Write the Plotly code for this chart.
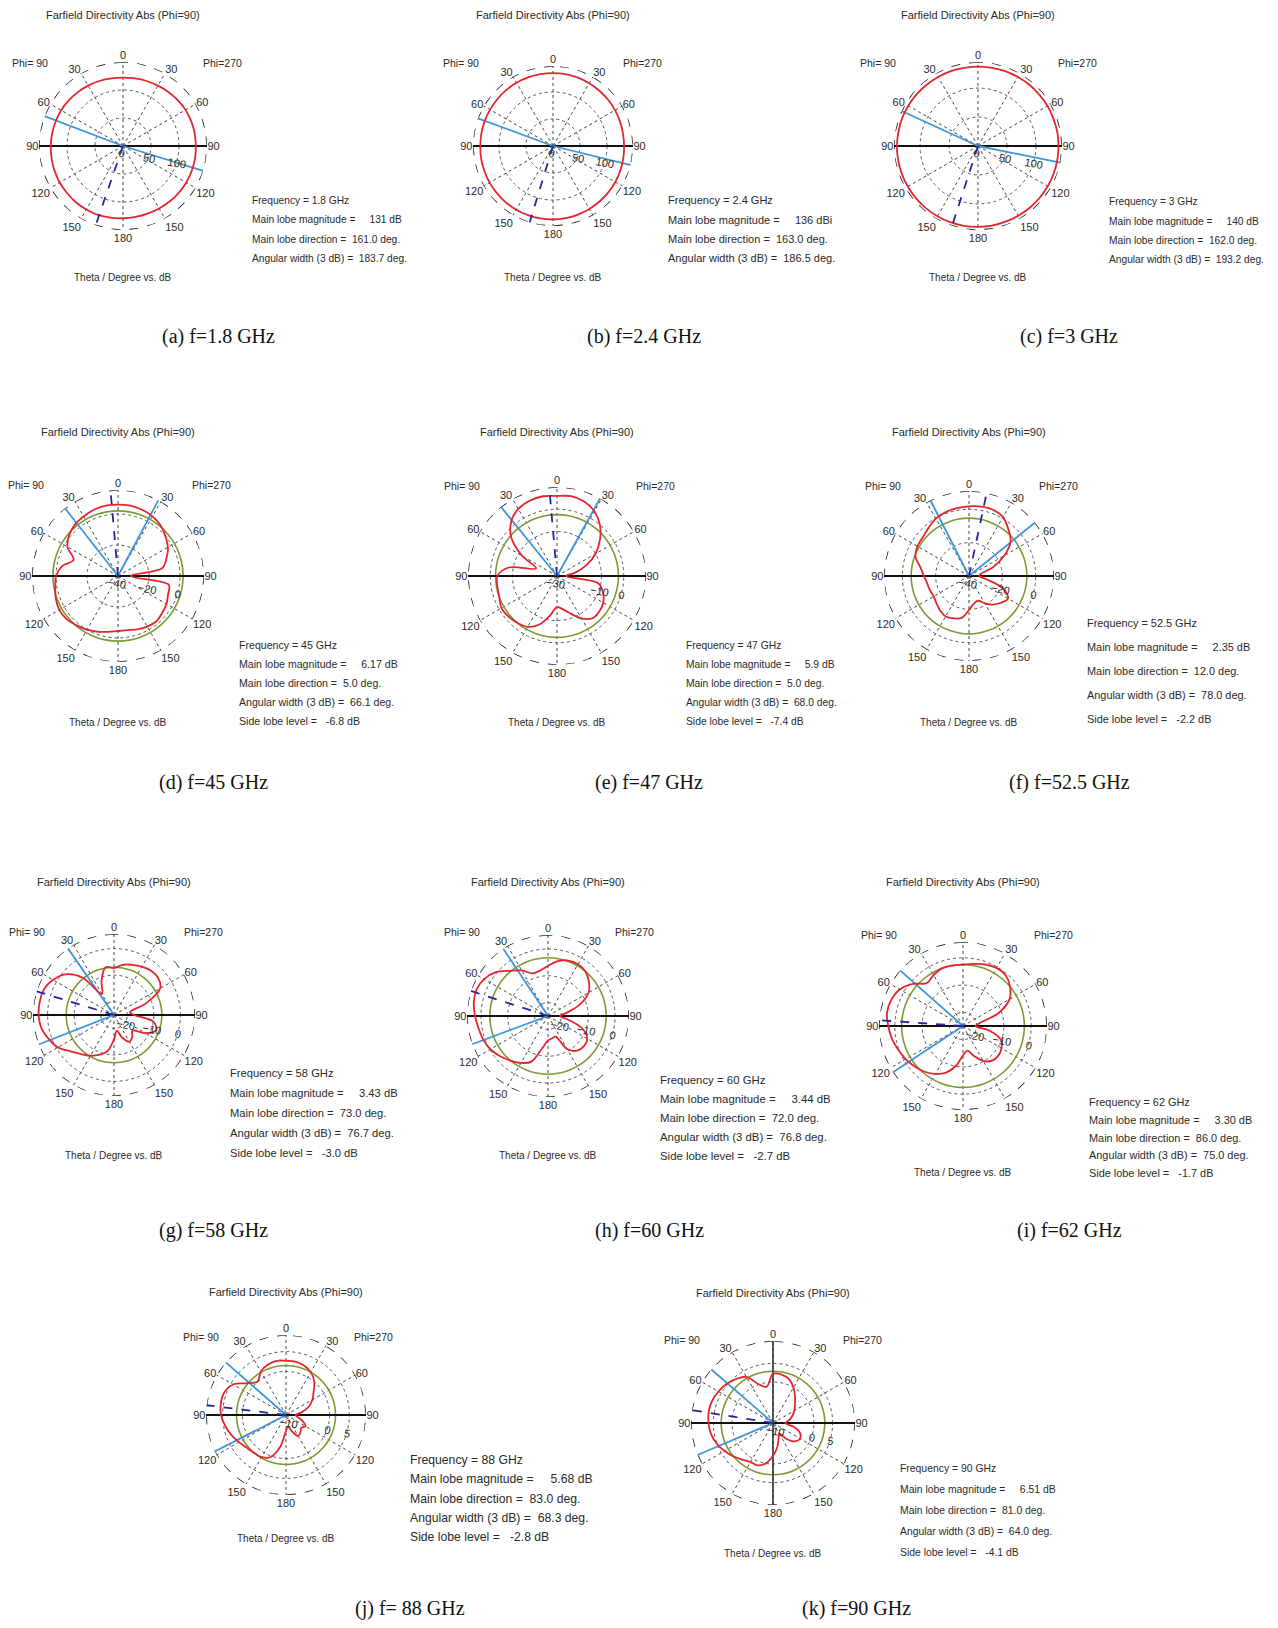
import plotly.graph_objects as go

W, H = 1278, 1628
OFF = 8                      # default page margin of the html body
FW, FH = W - 2 * OFF, H - 2 * OFF

# ---------------- data ----------------
# plot angle: 0 = top, increasing to the left (Phi=90 side); 180..360 = Phi=270 side
THETA_10 = [0, 10, 20, 30, 40, 50, 60, 70, 80, 90, 100, 110, 120, 130, 140, 150, 160, 170, 180,
            190, 200, 210, 220, 230, 240, 250, 260, 270, 280, 290, 300, 310, 320, 330, 340, 350, 360]

R_18 = [122, 122.5, 123.5, 124.5, 125.5, 126.5, 127.5, 128, 128.5, 129, 129.5, 130, 130.5, 130.5, 131, 131, 131, 130, 129,
        128.5, 128.5, 129, 129.5, 130, 130.5, 130.5, 130.5, 130, 130, 129.5, 129, 127.5, 126, 124.5, 123.5, 122.5, 122]
R_24 = [135, 135, 135, 135, 135, 134.5, 134.5, 134.5, 134.5, 134.5, 135, 135, 135.5, 135.5, 136, 136, 136, 136, 136,
        135.5, 135, 134.5, 134, 133.5, 133, 132.5, 132, 131.5, 131.5, 132, 132.5, 133, 133.5, 134, 134.5, 135, 135]
R_30 = [137, 137, 137.5, 137.5, 138, 138.5, 139, 139.5, 139.5, 140, 140, 140, 140, 140, 140, 140, 140, 140, 139.5,
        139.5, 139, 139, 139, 139, 139, 139, 139, 139, 139, 138.5, 138.5, 138, 138, 137.5, 137.5, 137, 137]
R_45 = [6.1, 6.1, 5.5, 4.4, 3.3, 1.1, -2.3, -9.5, -3.4, 0.0, 1.1, 2.7, 3.8, 3.3, 1.6, 0.0, -1.7, -3.4, -4.5,
        -4.5, -3.4, -2.3, -1.7, -2.8, -3.9, -5.6, -6.7, -31.7, -11.1, -6.7, -2.8, 0.0, 2.7, 4.4, 5.5, 6.1, 6.1]
R_47 = [6.0, 6.4, 6.0, 4.8, 2.0, -3.2, -12.0, -20.0, -8.0, -3.2, -2.8, -2.4, -1.2, -1.6, -2.4, -3.6, -6.8, -12.0, -16.0,
        -14.8, -12.0, -8.0, -5.2, -5.2, -6.0, -8.0, -11.2, -26.0, -22.0, -16.0, -10.0, -4.8, 0.0, 3.6, 5.6, 6.4, 6.0]
R_525 = [1.8, 1.3, 0.8, -0.2, -2.3, -3.8, -4.3, -5.8, -10.4, -13.0, -14.5, -15.0, -15.5, -14.5, -13.0, -12.0, -13.0, -14.5, -19.6,
         -23.2, -24.2, -21.1, -17.6, -15.0, -13.0, -18.6, -29.8, -33.9, -32.9, -24.7, -15.5, -7.4, -3.3, 0.8, 2.3, 2.3, 1.8]
R_58 = [-7.3, -6.7, -11.3, -15.9, -6.7, -1.2, 1.5, 3.1, 3.4, 3.4, 2.8, 1.2, -0.6, -3.7, -5.8, -7.3, -9.1, -11.3, -15.9,
        -18.9, -15.9, -13.4, -14.3, -15.9, -11.3, -8.2, -9.8, -17.4, -18.9, -12.2, -4.9, -3.3, -3.3, -4.0, -4.9, -5.8, -7.3]
R_60 = [-6.3, -7.8, -8.1, -5.4, -3.0, 0.4, 2.5, 3.4, 3.1, 2.2, 1.3, 0.7, -0.2, -1.7, -3.3, -4.8, -6.9, -12.9, -15.9,
        -16.5, -16.8, -10.8, -8.1, -7.5, -8.1, -11.4, -17.5, -20.5, -17.8, -12.3, -7.5, -5.1, -3.3, -2.7, -3.0, -4.2, -6.3]
R_62 = [-2.5, -2.5, -2.5, -3.4, -4.4, -1.0, 1.8, 3.0, 3.3, 2.4, 1.5, 0.3, -0.7, -1.9, -3.1, -4.7, -6.8, -10.2, -14.2,
        -15.8, -13.3, -10.2, -8.4, -8.1, -8.7, -10.2, -15.1, -20.4, -18.8, -11.1, -5.3, -2.5, -0.7, -0.4, -1.0, -1.9, -2.5]
R_88 = [2.7, 2.9, 2.5, 1.7, 0.1, 1.5, 4.4, 5.6, 5.7, 5.4, 4.6, 3.7, 2.7, 1.9, 1.5, 1.3, 0.3, -2.9, -7.0,
        -8.0, -6.6, -4.9, -5.3, -6.0, -5.3, -6.6, -8.0, -8.6, -7.0, -4.9, -3.3, -1.9, 0.1, 1.5, 2.3, 2.7, 2.7]
R_90 = [2.2, -1.1, 0.0, 3.3, 4.4, 5.3, 5.9, 6.4, 6.5, 6.3, 5.9, 5.1, 4.0, 2.9, 1.8, 1.1, 1.1, 0.0, -2.2,
        -4.4, -6.6, -7.7, -5.5, -3.3, -2.6, -3.3, -5.5, -7.7, -6.6, -5.5, -4.4, -3.3, -1.8, 0.0, 1.5, 2.2, 2.2]

FREQ_LABELS = ["1.8 GHz", "2.4 GHz", "3 GHz", "45 GHz", "47 GHz", "52.5 GHz",
               "58 GHz", "60 GHz", "62 GHz", "88 GHz", "90 GHz"]
CAPTIONS = ["(a) f=1.8 GHz", "(b) f=2.4 GHz", "(c) f=3 GHz", "(d) f=45 GHz", "(e) f=47 GHz",
            "(f) f=52.5 GHz", "(g) f=58 GHz", "(h) f=60 GHz", "(i) f=62 GHz", "(j) f= 88 GHz", "(k) f=90 GHz"]
MAIN_MAG = ["131 dB", "136 dBi", "140 dB", "6.17 dB", "5.9 dB", "2.35 dB",
            "3.43 dB", "3.44 dB", "3.30 dB", "5.68 dB", "6.51 dB"]
MAIN_DIR = [161.0, 163.0, 162.0, 5.0, 5.0, 12.0, 73.0, 72.0, 86.0, 83.0, 81.0]
MAIN_SIDE = ["L", "L", "L", "L", "L", "R", "L", "L", "L", "L", "L"]   # L: Phi=90 side, R: Phi=270 side
ANG_WIDTH = [183.7, 186.5, 193.2, 66.1, 68.0, 78.0, 76.7, 76.8, 75.0, 68.3, 64.0]
SIDE_LOBE = [None, None, None, -6.8, -7.4, -2.2, -3.0, -2.7, -1.7, -2.8, -4.1]
REF_CIRCLE = [None, None, None, 2.0, -2.4, -5.3, -7.0, -3.3, -2.5, 1.5, 2.9]
R_MIN = [0, 0, 0, -40, -30, -40, -25, -25, -25, -11, -11]
R_MAX = [150, 148, 145, 15.5, 10, 11, 5.5, 5.2, 5.8, 9.2, 11]
R_TICKS = [[0, 50, 100], [0, 50, 100], [0, 50, 100], [-40, -20, 0], [-30, -10, 0], [-40, -20, 0],
           [-20, -10, 0], [-20, -10, 0], [-20, -10, 0], [-10, 0, 5], [-10, 0, 5]]

PATTERNS = [R_18, R_24, R_30, R_45, R_47, R_525, R_58, R_60, R_62, R_88, R_90]

ANG_TICKVALS = [0, 30, 60, 90, 120, 150, 180, 210, 240, 270, 300, 330]
ANG_TICKTEXT = ["0", "30", "60", "90", "120", "150", "180", "150", "120", "90", "60", "30"]

# ---------------- layout (page-pixel geometry) ----------------
GEOM = [
    dict(cx=123, cy=146, r=84, ty=15, py=63, thy=278, ix=250, iy=200, idy=19.5, fs=10.2, capx=218, capy=337, pl=30, pr=222),
    dict(cx=553, cy=146, r=80, ty=15, py=63, thy=278, ix=666, iy=200, idy=19.5, fs=11, capx=644, capy=337, pl=461, pr=642),
    dict(cx=978, cy=146, r=84, ty=15, py=63, thy=278, ix=1107, iy=202, idy=19, fs=10.2, capx=1069, capy=337, pl=878, pr=1077),
    dict(cx=118, cy=576, r=86, ty=432, py=485, thy=722, ix=237, iy=645, idy=19, fs=10.6, capx=213, capy=782, pl=26, pr=211),
    dict(cx=557, cy=576, r=89, ty=432, py=486, thy=722, ix=684, iy=645, idy=19, fs=10.3, capx=649, capy=782, pl=462, pr=656),
    dict(cx=969, cy=576, r=85, ty=432, py=486, thy=722, ix=1085, iy=623, idy=24, fs=10.9, capx=1069, capy=782, pl=883, pr=1058),
    dict(cx=114, cy=1015, r=81, ty=882, py=932, thy=1155, ix=228, iy=1073, idy=20, fs=11.2, capx=213, capy=1230, pl=27, pr=203),
    dict(cx=548, cy=1016, r=81, ty=882, py=932, thy=1155, ix=658, iy=1080, idy=19, fs=11.4, capx=649, capy=1230, pl=462, pr=634),
    dict(cx=963, cy=1026, r=84, ty=882, py=935, thy=1172, ix=1087, iy=1102, idy=17.8, fs=10.9, capx=1069, capy=1230, pl=879, pr=1053),
    dict(cx=286, cy=1415, r=80, ty=1292, py=1337, thy=1538, ix=408, iy=1460, idy=19.3, fs=12.2, capx=410, capy=1608, pl=201, pr=373),
    dict(cx=773, cy=1423, r=82, ty=1293, py=1340, thy=1553, ix=898, iy=1468, idy=21, fs=10.4, capx=856, capy=1608, pl=682, pr=863),
]

RED = "#e3262e"
GREEN = "#7a9a32"
DBLUE = "#2424a8"
LBLUE = "#3f95db"
TXT = "#2a2a2a"
SANS = "Liberation Sans"

fig = go.Figure()
annotations = []


def px(x):
    return (x - OFF) / FW


def py_(y):
    return 1 - (y - OFF) / FH


for i, g in enumerate(GEOM):
    sp = "polar" if i == 0 else f"polar{i + 1}"
    rmin, rmax = R_MIN[i], R_MAX[i]
    # outer dashed circle
    fig.add_trace(go.Scatterpolar(theta=THETA_10, r=[rmax] * len(THETA_10), mode="lines",
                                  line=dict(color="#222", width=1.2, dash="dash"), subplot=sp,
                                  showlegend=False, hoverinfo="skip"))
    # 3 dB reference circle
    if REF_CIRCLE[i] is not None:
        fig.add_trace(go.Scatterpolar(theta=THETA_10, r=[REF_CIRCLE[i]] * len(THETA_10), mode="lines",
                                      line=dict(color=GREEN, width=1.6, shape="spline"), subplot=sp,
                                      showlegend=False, hoverinfo="skip"))
    # horizontal 90-90 axis
    fig.add_trace(go.Scatterpolar(theta=[90, 90, 270], r=[rmax, rmin, rmax], mode="lines",
                                  line=dict(color="#111", width=2.2), subplot=sp,
                                  showlegend=False, hoverinfo="skip"))
    if i == 10:
        fig.add_trace(go.Scatterpolar(theta=[0, 0, 180], r=[rmax, rmin, rmax], mode="lines",
                                      line=dict(color="#333", width=1.6), subplot=sp,
                                      showlegend=False, hoverinfo="skip"))
    # beam width directions
    main_t = MAIN_DIR[i] if MAIN_SIDE[i] == "L" else 360 - MAIN_DIR[i]
    half = ANG_WIDTH[i] / 2
    for edge in (main_t + half, main_t - half):
        fig.add_trace(go.Scatterpolar(theta=[edge % 360, edge % 360], r=[rmin, rmax], mode="lines",
                                      line=dict(color=LBLUE, width=1.8), subplot=sp,
                                      showlegend=False, hoverinfo="skip"))
    # pattern
    fig.add_trace(go.Scatterpolar(theta=THETA_10, r=PATTERNS[i], mode="lines",
                                  line=dict(color=RED, width=1.8, shape="spline", smoothing=1.0),
                                  subplot=sp, showlegend=False))
    # main lobe direction
    fig.add_trace(go.Scatterpolar(theta=[main_t, main_t], r=[rmin, rmax], mode="lines",
                                  line=dict(color=DBLUE, width=1.8, dash="dash"), subplot=sp,
                                  showlegend=False, hoverinfo="skip"))

    fig.update_layout(**{sp: dict(
        domain=dict(x=[px(g["cx"] - g["r"]), px(g["cx"] + g["r"])],
                    y=[py_(g["cy"] + g["r"]), py_(g["cy"] - g["r"])]),
        bgcolor="white",
        angularaxis=dict(rotation=90, direction="counterclockwise", tickmode="array",
                         tickvals=ANG_TICKVALS, ticktext=ANG_TICKTEXT, showline=False,
                         gridcolor="#444", griddash="dot", gridwidth=1, ticks="",
                         tickfont=dict(family=SANS, size=11, color=TXT)),
        radialaxis=dict(range=[rmin, rmax], tickmode="array", tickvals=R_TICKS[i],
                        showline=False, gridcolor="#555", griddash="dot", gridwidth=1,
                        ticks="", angle=-10, side="clockwise", tickangle=0,
                        tickfont=dict(family=SANS, size=11, color=TXT)),
    )})

    # texts
    annotations.append(dict(x=px(g["cx"]), y=py_(g["ty"]), text="Farfield Directivity Abs (Phi=90)",
                            font=dict(family=SANS, size=11, color=TXT)))
    annotations.append(dict(x=px(g["pl"]), y=py_(g["py"]), text="Phi= 90",
                            font=dict(family=SANS, size=10.5, color=TXT)))
    annotations.append(dict(x=px(g["pr"]), y=py_(g["py"]), text="Phi=270",
                            font=dict(family=SANS, size=10.5, color=TXT)))
    annotations.append(dict(x=px(g["cx"]), y=py_(g["thy"]), text="Theta / Degree vs. dB",
                            font=dict(family=SANS, size=10, color=TXT)))
    lines = [f"Frequency = {FREQ_LABELS[i]}",
             f"Main lobe magnitude =&nbsp;&nbsp;&nbsp;&nbsp;&nbsp;{MAIN_MAG[i]}",
             f"Main lobe direction =&nbsp;&nbsp;{MAIN_DIR[i]:.1f} deg.",
             f"Angular width (3 dB) =&nbsp;&nbsp;{ANG_WIDTH[i]:.1f} deg."]
    if SIDE_LOBE[i] is not None:
        lines.append(f"Side lobe level =&nbsp;&nbsp;&nbsp;{SIDE_LOBE[i]:.1f} dB")
    for k, t in enumerate(lines):
        annotations.append(dict(x=px(g["ix"]), y=py_(g["iy"] + k * g["idy"]), text=t, xanchor="left",
                                font=dict(family=SANS, size=g["fs"], color=TXT)))
    annotations.append(dict(x=px(g["capx"]), y=py_(g["capy"]), text=CAPTIONS[i],
                            font=dict(family="Liberation Serif", size=20, color="#111")))

for a in annotations:
    a.update(xref="paper", yref="paper", showarrow=False, yanchor="middle")
    a.setdefault("xanchor", "center")

fig.update_layout(width=FW, height=FH, margin=dict(l=0, r=0, t=0, b=0),
                  paper_bgcolor="white", plot_bgcolor="white", annotations=annotations,
                  showlegend=False)

fig.write_html("out.html")
